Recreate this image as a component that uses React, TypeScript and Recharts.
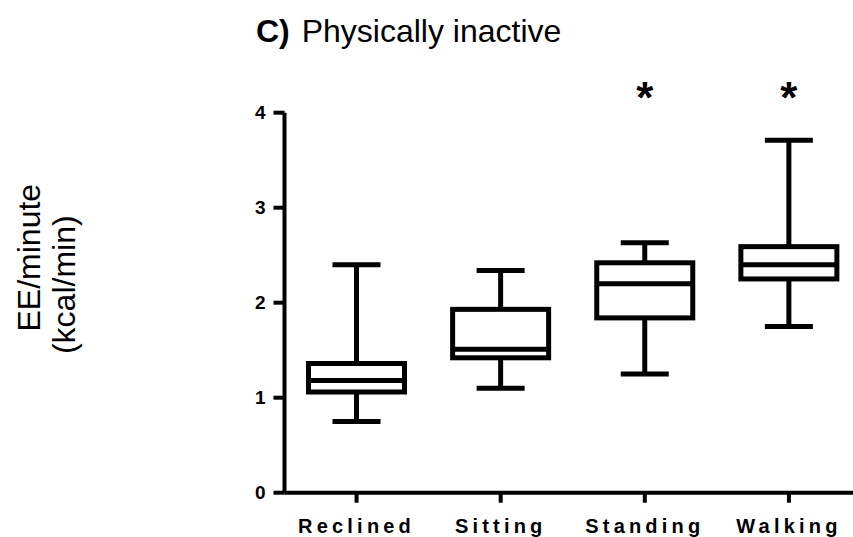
import { Bar, ComposedChart, XAxis, YAxis } from "recharts";

const categories = ["Reclined", "Sitting", "Standing", "Walking"];
const whiskerLow = [0.75, 1.1, 1.25, 1.75];
const quartile1 = [1.06, 1.42, 1.84, 2.25];
const medians = [1.18, 1.51, 2.2, 2.4];
const quartile3 = [1.36, 1.93, 2.42, 2.59];
const whiskerHigh = [2.4, 2.34, 2.63, 3.71];
const significant = [false, false, true, true];
const yTicks = [0, 1, 2, 3, 4];

const FONT = "'Liberation Sans', Arial, Helvetica, sans-serif";

const data = categories.map((name, i) => ({
  name,
  range: [whiskerLow[i], whiskerHigh[i]],
  min: whiskerLow[i],
  q1: quartile1[i],
  median: medians[i],
  q3: quartile3[i],
  max: whiskerHigh[i],
  star: significant[i],
}));

const BoxShape = (props: any) => {
  const { x, y, width, height, payload } = props;
  const { min, q1, median, q3, max, star } = payload;
  // map a value onto the bar's own pixel span (bar runs min -> max)
  const toPx = (v: number) => y + (height * (max - v)) / (max - min);
  const cx = x + width / 2;
  const cap = width / 4;
  const top = toPx(yTicks[yTicks.length - 1]);
  return (
    <g>
      <g stroke="#000" strokeWidth={5} fill="none">
        <line x1={cx} x2={cx} y1={toPx(max)} y2={toPx(q3)} />
        <line x1={cx} x2={cx} y1={toPx(q1)} y2={toPx(min)} />
        <line x1={cx - cap} x2={cx + cap} y1={toPx(max)} y2={toPx(max)} />
        <line x1={cx - cap} x2={cx + cap} y1={toPx(min)} y2={toPx(min)} />
        <rect x={x} y={toPx(q3)} width={width} height={toPx(q1) - toPx(q3)} fill="#fff" />
        <line x1={x} x2={x + width} y1={toPx(median)} y2={toPx(median)} />
      </g>
      {star && (
        <text x={cx} y={top} textAnchor="middle" fontFamily={FONT} fontWeight="bold" fontSize={44} fill="#000">
          *
        </text>
      )}
    </g>
  );
};

const CategoryTick = ({ x, y, payload }: any) => (
  <text
    x={x}
    y={y + 28}
    textAnchor="middle"
    fontFamily={FONT}
    fontWeight="bold"
    fontSize={20}
    letterSpacing={4.2}
    fill="#000"
  >
    {payload.value}
  </text>
);

const YTitle = ({ viewBox }: any) => {
  const mid = viewBox.y + viewBox.height / 2;
  const cy1 = mid - 45;
  const cy2 = mid - 18;
  const x1 = 40;
  const x2 = 75;
  return (
    <g fontFamily={FONT} fontSize={32} fill="#000">
      <text x={x1} y={cy1} textAnchor="middle" transform={`rotate(-90, ${x1}, ${cy1})`}>
        EE/minute
      </text>
      <text x={x2} y={cy2} textAnchor="middle" transform={`rotate(-90, ${x2}, ${cy2})`}>
        (kcal/min)
      </text>
    </g>
  );
};

export default function App() {
  return (
    <div
      style={{
        position: "fixed",
        left: 0,
        top: 0,
        width: 853,
        height: 537,
        overflow: "hidden",
        background: "#fff",
      }}
    >
      <div
        style={{
          position: "absolute",
          left: 256,
          top: 15.6,
          fontFamily: FONT,
          fontSize: 32,
          lineHeight: "30px",
          whiteSpace: "nowrap",
          color: "#000",
        }}
      >
        <b style={{ marginRight: 3 }}>C)</b> Physically inactive
      </div>
      <ComposedChart
        width={870}
        height={560}
        data={data}
        margin={{ top: 112.7, right: 9, bottom: 7.3, left: 0.5 }}
      >
        <XAxis
          dataKey="name"
          interval={0}
          height={60}
          tickSize={10}
          axisLine={{ stroke: "#000", strokeWidth: 4 }}
          tickLine={{ stroke: "#000", strokeWidth: 4 }}
          tick={<CategoryTick />}
        />
        <YAxis
          domain={[0, 4]}
          ticks={yTicks}
          interval={0}
          width={284}
          tickSize={11}
          tickMargin={8}
          axisLine={{ stroke: "#000", strokeWidth: 4 }}
          tickLine={{ stroke: "#000", strokeWidth: 4 }}
          tick={{ fill: "#000", fontSize: 19, fontWeight: "bold", fontFamily: FONT }}
          label={(p: any) => <YTitle {...p} />}
        />
        <Bar dataKey="range" barSize={96} shape={<BoxShape />} isAnimationActive={false} />
      </ComposedChart>
    </div>
  );
}
